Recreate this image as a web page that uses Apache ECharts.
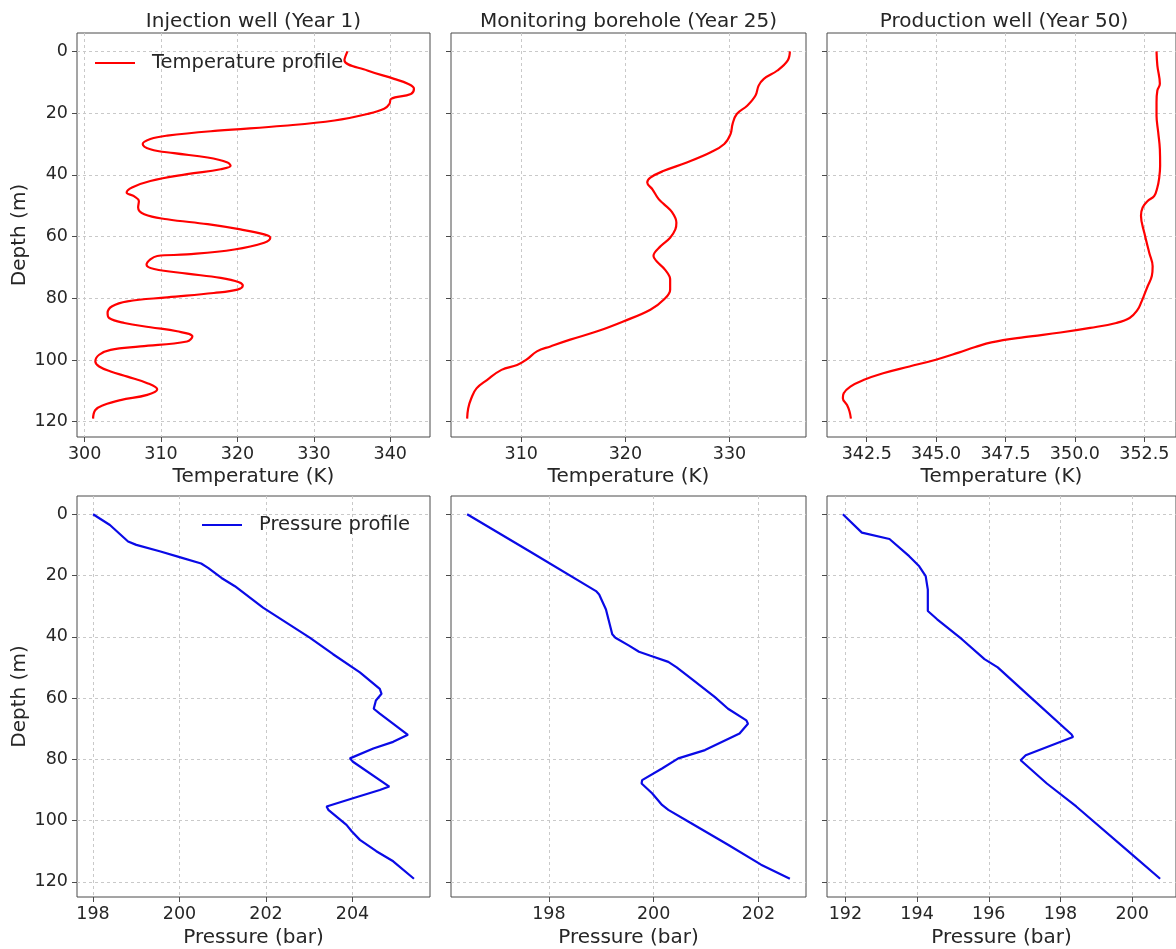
<!DOCTYPE html>
<html>
<head>
<meta charset="utf-8">
<script src="https://cdn.jsdelivr.net/npm/echarts@6/dist/echarts.min.js"></script>
<style>
  html, body { margin: 0; padding: 0; background: #fff; }
  #chart { width: 1176px; height: 949px; }
</style>
</head>
<body>
<div id="chart"></div>
<script>
// ---- Well profile data (depth in m, temperature in K, pressure in bar) ----
const depthTicks = [0, 20, 40, 60, 80, 100, 120];

const panelTitles = ['Injection well (Year 1)', 'Monitoring borehole (Year 25)', 'Production well (Year 50)'];

const injTempDepth = [0,2.9,6.2,8.9,10.5,12.1,13.8,15.4,17.0,18.6,20.3,22.4,24.1,25.7,27.3,28.4,30.0,31.7,33.0,34.4,36.0,37.1,38.2,39.8,42.0,44.1,45.7,47.0,48.5,50.6,52.8,54.4,56.0,57.7,59.3,60.4,62.0,64.2,65.8,66.3,67.4,69.1,70.5,72.0,73.4,74.8,75.9,77.2,78.3,79.7,81.0,82.6,84.8,86.4,88.0,89.4,90.7,92.4,94.0,95.6,96.7,98.3,100.5,102.1,103.7,105.4,107.5,109.5,111.3,113.0,114.6,116.2,119];
const injTempK = [334.4,334.0,337.0,340.5,342.3,343.1,342.7,340.1,339.9,339.2,337.0,332.7,326.1,317.4,310.8,308.6,307.6,308.6,311.7,316.1,318.7,319.1,317.8,313.4,308.6,306.2,305.5,306.5,307.1,307.0,307.8,310.8,316.1,320.4,323.5,324.3,323.5,319.6,313.4,309.5,308.6,308.1,309.1,313.4,317.8,320.2,320.7,320.0,316.9,310.8,305.6,303.6,303.0,303.2,305.2,308.6,312.1,314.1,313.4,307.3,303.4,301.9,301.4,301.9,303.4,305.6,308.2,309.5,308.2,304.7,302.5,301.4,301.1];

const monTempDepth = [0,2.9,6.2,8.9,11.1,14.3,17.6,20.3,23.5,26.8,30.0,32.7,36.0,38.7,40.9,42.5,44.7,47.9,49.5,52.2,55.5,57.7,60.4,63.1,66.3,68.0,70.7,73.9,77.2,80.4,83.7,87.5,90.7,93.4,95.6,97.2,99.9,101.6,103.2,106.5,109.2,112.4,115.7,119];
const monTempK = [335.8,335.6,334.6,333.3,332.8,332.5,331.7,330.7,330.3,330.1,329.5,328.2,325.9,323.7,322.4,322.1,322.6,323.2,323.7,324.5,324.9,324.8,324.3,323.4,322.7,323.0,323.8,324.3,324.3,323.7,322.4,319.8,317.3,314.7,312.8,311.5,310.5,309.6,308.1,306.7,305.7,305.2,304.9,304.8];

const prodTempDepth = [0,4.6,10.5,12.7,16.5,20.8,26.2,31.7,37.1,41.4,44.1,46.8,48.5,50.6,53.3,58.8,65.3,69.6,72.8,76.1,79.3,81.5,83.7,86.4,88.0,89.6,91.1,92.6,94.3,95.8,97.6,99.9,102.1,104.3,106.5,108.6,110.8,112.4,114.6,116.7,119];
const prodTempK = [352.94,352.97,353.06,352.97,352.94,352.94,353.0,353.06,353.07,353.03,352.97,352.86,352.62,352.44,352.38,352.5,352.68,352.8,352.77,352.62,352.48,352.38,352.26,351.97,351.49,350.55,349.48,348.18,346.99,346.41,345.81,344.99,344.04,343.09,342.38,341.91,341.67,341.64,341.79,341.88,341.93];

const injPresDepth = [0,3.5,8.9,10.0,12.1,14.0,16.1,17.5,20.8,23.5,30.5,35.4,40.3,45.7,51.6,57.0,58.6,60.8,63.5,65.1,72.0,74.3,76.5,79.7,80.8,88.9,90.0,92.7,95.4,96.5,101.4,103.5,106.3,110.0,113.3,119];
const injPresBar = [198.0,198.39,198.81,199.0,199.54,200.0,200.5,200.66,200.97,201.28,201.93,202.47,203.01,203.55,204.17,204.63,204.67,204.54,204.49,204.63,205.28,204.94,204.48,203.94,204.01,204.85,204.63,204.01,203.4,203.44,203.86,203.98,204.17,204.55,204.94,205.42];

const monPresDepth = [0,12.1,25.1,26.2,31.1,39.2,40.3,42.9,44.9,46.2,48.2,50.0,53.8,59.7,63.5,67.3,68.4,71.6,77.0,79.7,83.0,86.8,87.9,91.1,94.9,96.5,100.3,107.9,114.4,119];
const monPresBar = [196.44,197.63,198.9,198.96,199.09,199.21,199.27,199.53,199.72,199.94,200.28,200.44,200.73,201.17,201.42,201.77,201.8,201.64,200.98,200.47,200.16,199.78,199.77,199.97,200.16,200.28,200.66,201.42,202.05,202.6];

const prodPresDepth = [0,6.0,8.1,13.7,17.0,20.2,24.6,31.6,34.3,40.8,47.3,50.0,59.7,71.9,72.7,78.7,80.3,87.9,95.4,111.1,119];
const prodPresBar = [191.93,192.46,193.23,193.78,194.06,194.24,194.3,194.3,194.56,195.25,195.88,196.25,197.16,198.31,198.35,197.03,196.89,197.62,198.44,200.0,200.78];

const tempTicks = [
  [300, 310, 320, 330, 340],
  [310, 320, 330],
  [342.5, 345.0, 347.5, 350.0, 352.5]
];
const presTicks = [
  [198, 200, 202, 204],
  [198, 200, 202],
  [192, 194, 196, 198, 200]
];

// ---- Panel setup ----
const FONT = 'DejaVu Sans';
const TEXT = '#262626';
const FRAME = '#4a4a4a';

const colLeft = [77, 451, 827];
const colWidth = [353, 355, 354];
const rowTop = [33, 496];
const rowHeight = [404, 403];
const rowNameGap = [30, 31];

const panels = [
  { row: 0, col: 0, depth: injTempDepth,  vals: injTempK,   ticks: tempTicks[0], dec: 0, name: 'Temperature profile', color: '#ff0000', xName: 'Temperature (K)', smooth: true },
  { row: 0, col: 1, depth: monTempDepth,  vals: monTempK,   ticks: tempTicks[1], dec: 0, name: 'Temperature profile', color: '#ff0000', xName: 'Temperature (K)', smooth: true },
  { row: 0, col: 2, depth: prodTempDepth, vals: prodTempK,  ticks: tempTicks[2], dec: 1, name: 'Temperature profile', color: '#ff0000', xName: 'Temperature (K)', smooth: true },
  { row: 1, col: 0, depth: injPresDepth,  vals: injPresBar, ticks: presTicks[0], dec: 0, name: 'Pressure profile', color: '#0a0ae6', xName: 'Pressure (bar)', smooth: false },
  { row: 1, col: 1, depth: monPresDepth,  vals: monPresBar, ticks: presTicks[1], dec: 0, name: 'Pressure profile', color: '#0a0ae6', xName: 'Pressure (bar)', smooth: false },
  { row: 1, col: 2, depth: prodPresDepth, vals: prodPresBar, ticks: presTicks[2], dec: 0, name: 'Pressure profile', color: '#0a0ae6', xName: 'Pressure (bar)', smooth: false }
];

// autoscale with 5% padding on each side
function padded(arr) {
  const lo = Math.min.apply(null, arr), hi = Math.max.apply(null, arr);
  const m = (hi - lo) * 0.05;
  return [lo - m, hi + m];
}

const grids = [], xAxes = [], yAxes = [], series = [];
panels.forEach((p, i) => {
  grids.push({
    left: colLeft[p.col], top: rowTop[p.row],
    width: colWidth[p.col], height: rowHeight[p.row],
    show: true, borderColor: FRAME, borderWidth: 1, backgroundColor: 'transparent'
  });
  const xr = padded(p.vals);
  xAxes.push({
    type: 'value', gridIndex: i, position: 'bottom', min: xr[0], max: xr[1],
    axisLine: { show: false, onZero: false },
    axisTick: { show: true, length: 5, customValues: p.ticks, lineStyle: { color: FRAME, width: 1 } },
    axisLabel: {
      customValues: p.ticks, margin: 8, fontSize: 17.5, color: TEXT, fontFamily: FONT,
      formatter: v => Number(v).toFixed(p.dec)
    },
    splitLine: { show: true, lineStyle: { color: '#c9c9c9', width: 1, type: [3, 3] } },
    name: p.xName, nameLocation: 'middle', nameGap: rowNameGap[p.row],
    nameTextStyle: { fontSize: 20, color: TEXT, fontFamily: FONT }
  });
  const yr = padded(p.depth);
  yAxes.push({
    type: 'value', gridIndex: i, position: 'left', inverse: true, min: yr[0], max: yr[1],
    axisLine: { show: false, onZero: false },
    axisTick: { show: true, length: 5, customValues: depthTicks, lineStyle: { color: FRAME, width: 1 } },
    axisLabel: {
      show: p.col === 0, customValues: depthTicks, margin: 9,
      fontSize: 17.5, color: TEXT, fontFamily: FONT
    },
    splitLine: { show: true, lineStyle: { color: '#c9c9c9', width: 1, type: [3, 3] } },
    name: p.col === 0 ? 'Depth (m)' : '', nameLocation: 'middle', nameGap: 47,
    nameTextStyle: { fontSize: 20, color: TEXT, fontFamily: FONT }
  });
  series.push({
    type: 'line', name: p.name, xAxisIndex: i, yAxisIndex: i,
    data: p.vals.map((v, k) => [v, p.depth[k]]),
    symbol: 'none', showSymbol: false,
    smooth: p.smooth ? 0.4 : false,
    lineStyle: { color: p.color, width: 2.2 },
    itemStyle: { color: p.color },
    silent: true, animation: false
  });
});

const titles = panelTitles.map((t, c) => ({
  text: t, left: colLeft[c] + colWidth[c] / 2, top: 12, textAlign: 'center', padding: 0,
  textStyle: { fontSize: 20, fontWeight: 'normal', color: TEXT, fontFamily: FONT }
}));

const legendCommon = {
  orient: 'horizontal', padding: 0, icon: 'rect', itemWidth: 40, itemHeight: 2,
  selectedMode: false,
  textStyle: { fontSize: 19.5, color: TEXT, fontFamily: FONT, padding: [0, 0, 0, 12] }
};

const chart = echarts.init(document.getElementById('chart'), null, { renderer: 'canvas' });
chart.setOption({
  backgroundColor: '#ffffff',
  animation: false,
  title: titles,
  legend: [
    Object.assign({ data: ['Temperature profile'], left: 95, top: 53 }, legendCommon),
    Object.assign({ data: ['Pressure profile'], left: 202, top: 515 }, legendCommon)
  ],
  grid: grids,
  xAxis: xAxes,
  yAxis: yAxes,
  series: series
});
</script>
</body>
</html>
